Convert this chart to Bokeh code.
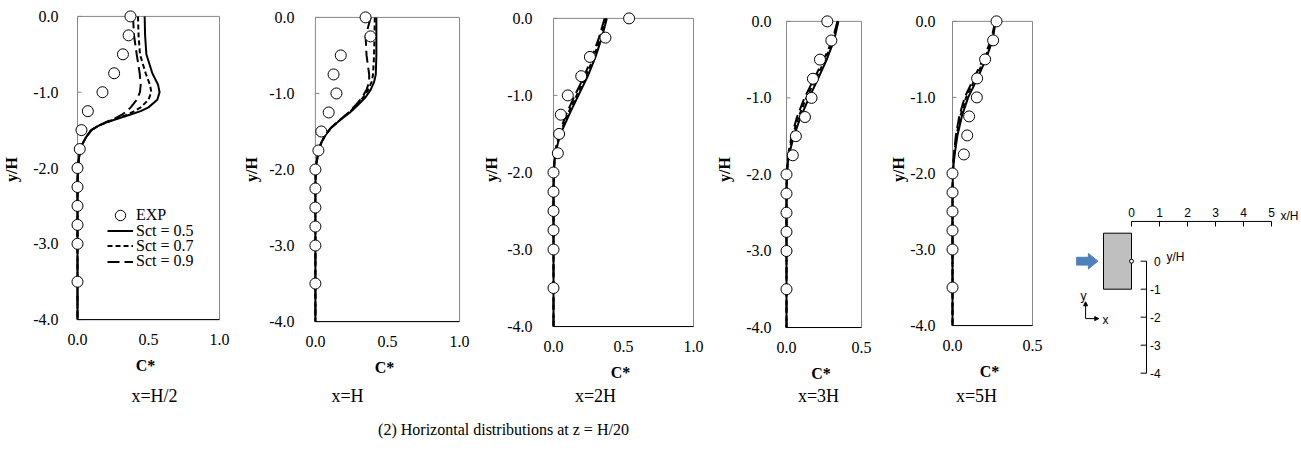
from bokeh.plotting import figure
from bokeh.models import (Range1d, FixedTicker, PrintfTickFormatter, Legend,
                          LegendItem, Arrow, NormalHead)
from bokeh.layouts import row, column
from bokeh.embed import file_html
from bokeh.resources import INLINE
from bokeh.core.properties import value

SERIF = "Liberation Serif"
SANS = "Liberation Sans"

# ---------------- data ----------------
exp_depth = [0.0, -0.25, -0.5, -0.75, -1.0, -1.25, -1.5, -1.75, -2.0, -2.25, -2.5, -2.75, -3.0, -3.5]
exp_xh2 = [0.373, 0.36, 0.32, 0.258, 0.176, 0.073, 0.028, 0.016, 0, 0, 0, 0, 0, 0]
exp_xh1 = [0.348, 0.382, 0.176, 0.126, 0.146, 0.092, 0.041, 0.021, 0, 0, 0, 0, 0, 0]
exp_x2h = [0.54, 0.371, 0.26, 0.198, 0.102, 0.052, 0.04, 0.031, 0, 0, 0, 0, 0, 0]
exp_x3h = [0.272, 0.299, 0.223, 0.176, 0.167, 0.123, 0.0625, 0.042, 0, 0, 0, 0, 0, 0]
exp_x5h = [0.275, 0.254, 0.204, 0.154, 0.152, 0.104, 0.092, 0.071, 0, 0, 0, 0, 0, 0]

# x = H/2
depth_xh2 = [0, -0.25, -0.5, -0.75, -0.9, -1.0, -1.1, -1.2, -1.25, -1.3, -1.35, -1.4, -1.45,
             -1.5, -1.6, -1.7, -1.8, -1.9, -2.0, -2.2, -4.0]
sct05_xh2 = [0.473, 0.476, 0.485, 0.527, 0.567, 0.578, 0.562, 0.50, 0.445, 0.363, 0.281, 0.20,
             0.14, 0.098, 0.058, 0.03, 0.016, 0.008, 0.003, 0, 0]
sct07_xh2 = [0.426, 0.43, 0.44, 0.48, 0.51, 0.52, 0.50, 0.445, 0.40, 0.345, 0.275, 0.2,
             0.14, 0.098, 0.058, 0.03, 0.016, 0.008, 0.003, 0, 0]
sct09_xh2 = [0.391, 0.398, 0.417, 0.438, 0.445, 0.44, 0.417, 0.375, 0.347, 0.31, 0.258, 0.195,
             0.137, 0.096, 0.057, 0.03, 0.016, 0.008, 0.003, 0, 0]

# x = H
depth_xh1 = [0, -0.25, -0.5, -0.75, -0.85, -0.95, -1.05, -1.15, -1.25, -1.35, -1.45, -1.55,
             -1.65, -1.75, -1.9, -2.0, -2.2, -4.0]
sct05_xh1 = [0.423, 0.423, 0.423, 0.419, 0.407, 0.384, 0.348, 0.297, 0.24, 0.172, 0.11, 0.069,
             0.041, 0.023, 0.009, 0.003, 0, 0]
sct07_xh1 = [0.412, 0.41, 0.407, 0.40, 0.39, 0.366, 0.332, 0.286, 0.235, 0.17, 0.109, 0.068,
             0.04, 0.022, 0.009, 0.003, 0, 0]
sct09_xh1 = [0.384, 0.348, 0.355, 0.373, 0.373, 0.355, 0.325, 0.281, 0.23, 0.168, 0.108, 0.067,
             0.04, 0.022, 0.009, 0.003, 0, 0]

# x = 2H, 3H, 5H
depth_far = [0, -0.25, -0.5, -0.75, -1.0, -1.25, -1.5, -1.7, -1.85, -2.0, -2.2, -4.0]
sct05_x2h = [0.381, 0.345, 0.30, 0.245, 0.178, 0.112, 0.05, 0.02, 0.008, 0.003, 0, 0]
sct07_x2h = [0.375, 0.335, 0.288, 0.232, 0.165, 0.10, 0.045, 0.017, 0.007, 0.002, 0, 0]
sct09_x2h = [0.365, 0.325, 0.275, 0.22, 0.152, 0.09, 0.04, 0.015, 0.006, 0.002, 0, 0]
sct05_x3h = [0.346, 0.317, 0.268, 0.21, 0.15, 0.094, 0.049, 0.022, 0.009, 0.003, 0, 0]
sct07_x3h = [0.343, 0.31, 0.257, 0.195, 0.133, 0.08, 0.04, 0.018, 0.007, 0.002, 0, 0]
sct09_x3h = [0.34, 0.305, 0.248, 0.183, 0.12, 0.07, 0.034, 0.015, 0.006, 0.002, 0, 0]
sct05_x5h = [0.27, 0.25, 0.208, 0.156, 0.098, 0.058, 0.031, 0.017, 0.008, 0.003, 0, 0]
sct07_x5h = [0.27, 0.245, 0.2, 0.143, 0.085, 0.048, 0.025, 0.013, 0.006, 0.002, 0, 0]
sct09_x5h = [0.268, 0.24, 0.192, 0.133, 0.076, 0.042, 0.021, 0.011, 0.005, 0.002, 0, 0]

panel_titles = ["x=H/2", "x=H", "x=2H", "x=3H", "x=5H"]
sct_labels = ["Sct = 0.5", "Sct = 0.7", "Sct = 0.9"]
exp_label = "EXP"
caption = "(2) Horizontal distributions at z = H/20"
y_ticks = [0, -1, -2, -3, -4]
x_ticks_wide = [0, 0.5, 1.0]
x_ticks_narrow = [0, 0.5]

# schematic
sch_x_ticks = [0, 1, 2, 3, 4, 5]
sch_y_ticks = [0, -1, -2, -3, -4]

# ---------------- layout (page pixels) ----------------
ROW_BOTTOM, PANELS_RIGHT, PAGE_RIGHT, PAGE_BOTTOM = 384, 1050, 1300, 451
PADL, PADR = 8, 2
LEGEND_ROWS_Y = [215, 230.3, 245.7, 261]   # centre of each legend row (page px)
LEGEND_GLYPH_H = [26, 15, 15, 15]
TEXT_H = 18.4

panels = [
    dict(fig=(0, 240), box=(77, 219, 16, 323), xmax=1.0, xt=x_ticks_wide, ls=11, ts=9.5,
         exp=exp_xh2, depth=depth_xh2, sims=[sct05_xh2, sct07_xh2, sct09_xh2], legend=True),
    dict(fig=(240, 470), box=(313, 459, 17, 325), xmax=1.0, xt=x_ticks_wide, ls=13, ts=5.5,
         exp=exp_xh1, depth=depth_xh1, sims=[sct05_xh1, sct07_xh1, sct09_xh1], legend=False),
    dict(fig=(470, 705), box=(553, 693, 18, 330), xmax=1.0, xt=x_ticks_wide, ls=13, ts=4.5,
         exp=exp_x2h, depth=depth_far, sims=[sct05_x2h, sct07_x2h, sct09_x2h], legend=False),
    dict(fig=(705, 875), box=(786, 861, 21, 331), xmax=0.5, xt=x_ticks_narrow, ls=7, ts=9.5,
         exp=exp_x3h, depth=depth_far, sims=[sct05_x3h, sct07_x3h, sct09_x3h], legend=False),
    dict(fig=(875, 1050), box=(952, 1032, 21, 329), xmax=0.5, xt=x_ticks_narrow, ls=9, ts=0.5,
         exp=exp_x5h, depth=depth_far, sims=[sct05_x5h, sct07_x5h, sct09_x5h], legend=False),
]
FRAME_TOP = min(c["box"][2] for c in panels) - 7
FRAME_BOTTOM = max(c["box"][3] for c in panels) + 2
dashes = ["solid", "5 3", "12 5"]


def make_panel(cfg):
    fl, fr = cfg["fig"]
    x0, x1, y0, y4 = cfg["box"]
    xmax = cfg["xmax"]
    ppx = (x1 - x0) / xmax
    ppy = (y4 - y0) / 4.0
    f_left, f_right = x0 - PADL, x1 + PADR
    p = figure(width=fr - fl, height=ROW_BOTTOM,
               x_range=Range1d(-PADL / ppx, xmax + PADR / ppx),
               y_range=Range1d(-4 - (FRAME_BOTTOM - y4) / ppy, (y0 - FRAME_TOP) / ppy),
               min_border_left=f_left - fl, min_border_right=fr - f_right,
               min_border_top=FRAME_TOP, min_border_bottom=ROW_BOTTOM - FRAME_BOTTOM,
               output_backend="svg", toolbar_location=None, tools="")
    p.grid.visible = False
    p.outline_line_color = None
    p.background_fill_color = "white"
    p.border_fill_color = "white"
    for ax in (p.xaxis, p.yaxis):
        ax.axis_line_color = None
        ax.major_tick_line_color = None
        ax.minor_tick_line_color = None
        ax.major_tick_out = 0
        ax.major_tick_in = 0
        ax.minor_tick_out = 0
        ax.minor_tick_in = 0
        ax.major_label_text_font = SERIF
        ax.major_label_text_font_size = "16px"
        ax.major_label_text_color = "black"
        ax.axis_label_text_font = SERIF
        ax.axis_label_text_font_size = "16px"
        ax.axis_label_text_font_style = "bold"
        ax.axis_label_text_color = "black"
        ax.formatter = PrintfTickFormatter(format="%.1f")
    p.xaxis.ticker = FixedTicker(ticks=cfg["xt"])
    p.yaxis.ticker = FixedTicker(ticks=y_ticks)
    p.xaxis.axis_label = "C*"
    p.yaxis.axis_label = "y/H"
    p.xaxis.major_label_standoff = int(round(y4 + 14 - FRAME_BOTTOM))
    p.xaxis.axis_label_standoff = 9
    p.yaxis.major_label_standoff = cfg["ls"]
    p.yaxis.axis_label_standoff = int(round(cfg["ts"]))

    # plot-area box with small inward y ticks
    p.quad(left=0, right=xmax, bottom=-4, top=0, fill_color=None,
           line_color="#878787", line_width=1)
    p.segment(x0=[0] * len(y_ticks), y0=y_ticks, x1=[4.0 / ppx] * len(y_ticks), y1=y_ticks,
              line_color="#878787", line_width=1)
    p.segment(x0=0, y0=-4, x1=xmax, y1=-4, line_color="black", line_width=1)

    rs = []
    for sim, dash in zip(cfg["sims"], dashes):
        r = p.line(sim, cfg["depth"], line_color="black", line_width=2, line_dash=dash)
        rs.append(r)
    er = p.scatter(cfg["exp"], exp_depth, size=11, marker="circle",
                   fill_color="white", line_color="black", line_width=1)
    if cfg["legend"]:
        items = [LegendItem(label=exp_label, renderers=[er])]
        for lab, r in zip(sct_labels, rs):
            items.append(LegendItem(label=lab, renderers=[r]))
        for item, yc, gh in zip(items, LEGEND_ROWS_Y, LEGEND_GLYPH_H):
            h = max(gh, TEXT_H)
            leg = Legend(items=[item], location=(38, FRAME_BOTTOM - yc - h / 2 - 4),
                         border_line_color=None, background_fill_alpha=0, padding=0,
                         margin=0, spacing=0, glyph_width=26, glyph_height=gh,
                         label_height=15, label_standoff=3,
                         label_text_font=SERIF, label_text_font_size="16px",
                         label_text_color="black")
            p.add_layout(leg)
    return p


figs = [make_panel(c) for c in panels]

# ---------------- caption strip (under the panels) ----------------
c = figure(width=PANELS_RIGHT, height=PAGE_BOTTOM - ROW_BOTTOM,
           x_range=Range1d(0, PANELS_RIGHT), y_range=Range1d(PAGE_BOTTOM, ROW_BOTTOM),
           min_border=0, x_axis_type=None, y_axis_type=None,
           output_backend="svg", toolbar_location=None, tools="")
c.grid.visible = False
c.outline_line_color = None
c.text(x=[154, 347, 595, 818, 976], y=[395] * 5, text=panel_titles,
       text_font=value(SERIF), text_font_size="18px", text_align="center",
       text_baseline="middle", text_color="black")
c.text(x=[503], y=[429], text=[caption], text_font=value(SERIF), text_font_size="16px",
       text_align="center", text_baseline="middle", text_color="black")

# ---------------- schematic ----------------
PPU = 28.0
OX, OY = 1131.0, 260.7
s = figure(width=PAGE_RIGHT - PANELS_RIGHT, height=PAGE_BOTTOM,
           x_range=Range1d((PANELS_RIGHT - OX) / PPU, (PAGE_RIGHT - OX) / PPU),
           y_range=Range1d((OY - PAGE_BOTTOM) / PPU, OY / PPU),
           min_border=0, x_axis_type=None, y_axis_type=None,
           output_backend="svg", toolbar_location=None, tools="")
s.grid.visible = False
s.outline_line_color = None
s.quad(left=-1, right=0, bottom=-1, top=1, fill_color="#BFBFBF", line_color="black", line_width=1)
s.patch(x=[-1.96, -1.54, -1.54, -1.20, -1.54, -1.54, -1.96],
        y=[0.14, 0.14, 0.28, 0.0, -0.28, -0.14, -0.14],
        fill_color="#4F81BD", line_color="#4F81BD")
XA_Y = 1.42
s.segment(x0=0, y0=XA_Y, x1=sch_x_ticks[-1], y1=XA_Y, line_color="black", line_width=1)
s.segment(x0=sch_x_ticks, y0=[XA_Y] * len(sch_x_ticks), x1=sch_x_ticks,
          y1=[XA_Y - 0.18] * len(sch_x_ticks), line_color="black", line_width=1)
s.text(x=sch_x_ticks, y=[1.74] * len(sch_x_ticks), text=[str(t) for t in sch_x_ticks],
       text_font=value(SANS), text_font_size="12px", text_align="center",
       text_baseline="middle", text_color="black")
s.text(x=[5.32], y=[1.61], text=["x/H"], text_font=value(SANS), text_font_size="12px",
       text_align="left", text_baseline="middle", text_color="black")
YA_X = 0.536
s.segment(x0=YA_X, y0=0, x1=YA_X, y1=sch_y_ticks[-1], line_color="black", line_width=1)
s.segment(x0=[YA_X] * len(sch_y_ticks), y0=sch_y_ticks, x1=[YA_X - 0.21] * len(sch_y_ticks),
          y1=sch_y_ticks, line_color="black", line_width=1)
s.text(x=[1.04] * len(sch_y_ticks), y=sch_y_ticks, text=[str(t) for t in sch_y_ticks],
       text_font=value(SANS), text_font_size="12px", text_align="right",
       text_baseline="middle", text_color="black")
s.text(x=[1.25], y=[0.14], text=["y/H"], text_font=value(SANS), text_font_size="12px",
       text_align="left", text_baseline="middle", text_color="black")
s.scatter(x=[0], y=[0], size=4, marker="circle", fill_color="white", line_color="black")
s.add_layout(Arrow(end=NormalHead(size=4, fill_color="black", line_color="black"),
                   x_start=-1.64, y_start=-2.05, x_end=-1.64, y_end=-1.45,
                   line_color="black", line_width=1))
s.add_layout(Arrow(end=NormalHead(size=4, fill_color="black", line_color="black"),
                   x_start=-1.64, y_start=-2.05, x_end=-1.17, y_end=-2.05,
                   line_color="black", line_width=1))
s.text(x=[-1.71], y=[-1.25], text=["y"], text_font=value(SANS), text_font_size="12px",
       text_align="center", text_baseline="middle", text_color="black")
s.text(x=[-0.93], y=[-2.1], text=["x"], text_font=value(SANS), text_font_size="12px",
       text_align="center", text_baseline="middle", text_color="black")

layout = row(column(row(*figs, spacing=0), c, spacing=0), s, spacing=0)
open("out.html", "w").write(file_html(layout, INLINE))
